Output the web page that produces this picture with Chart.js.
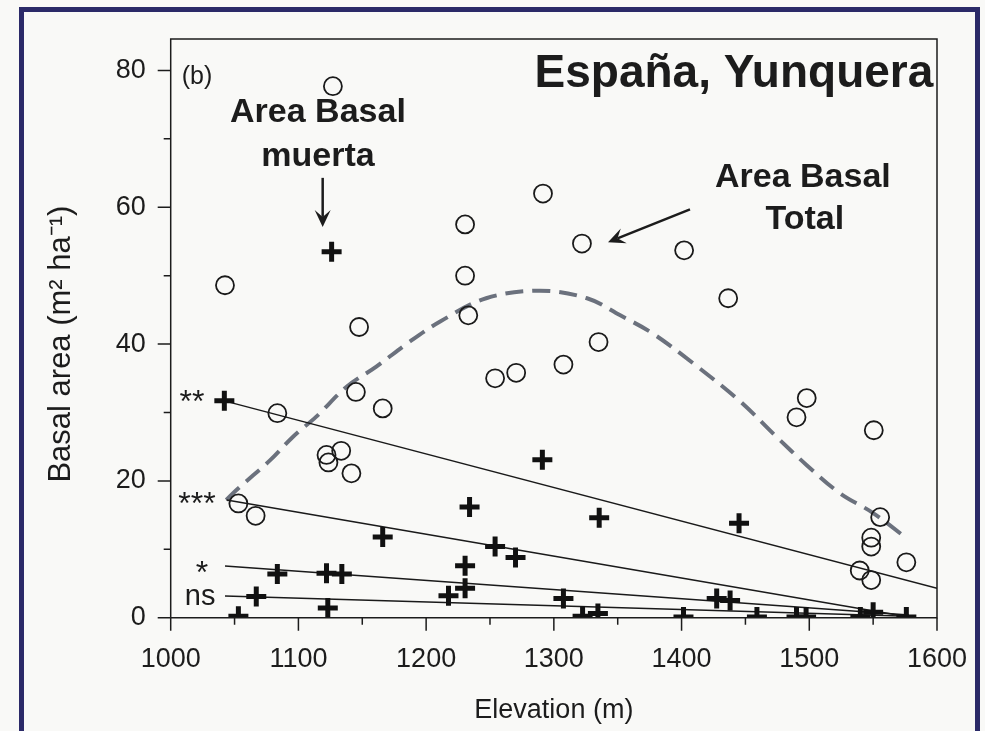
<!DOCTYPE html>
<html>
<head>
<meta charset="utf-8">
<title>España, Yunquera</title>
<script src="https://cdn.jsdelivr.net/npm/chart.js@4.4.1/dist/chart.umd.min.js"></script>
<style>
  html, body { margin: 0; padding: 0; background: #f9f9f7; }
  #wrap { position: relative; width: 985px; height: 731px; overflow: hidden; }
  #frame {
    position: absolute; left: 19px; top: 7px; width: 961px; height: 760px;
    border: 5px solid #2b2a68; box-sizing: border-box; pointer-events: none;
  }
  canvas { position: absolute; left: 0; top: 0; }
</style>
</head>
<body>
<div id="wrap">
  <canvas id="basalChart" width="985" height="731"></canvas>
  <div id="frame"></div>
</div>
<script>
// Area basal total (circles): [elevation, m2/ha]
const totalPoints = [
  [1042.5, 48.6], [1127, 77.7], [1147.5, 42.5], [1145, 33], [1166, 30.6],
  [1083.5, 29.9], [1122, 23.8], [1123.5, 22.7], [1133.5, 24.4], [1141.5, 21.1],
  [1053, 16.7], [1066.5, 14.9], [1230.5, 57.5], [1230.5, 50], [1233, 44.2],
  [1291.5, 62], [1322, 54.7], [1335, 40.3], [1307.5, 37], [1270.5, 35.8],
  [1254, 35], [1402, 53.7], [1436.5, 46.7], [1498, 32.1], [1490, 29.3],
  [1550.5, 27.4], [1555.5, 14.7], [1548.5, 11.7], [1548.5, 10.4], [1576, 8.1],
  [1539.5, 6.9], [1548.5, 5.5]
];

// Area basal muerta (crosses)
const deadPoints = [
  [1042, 31.7], [1126, 53.5], [1166, 11.8], [1083.5, 6.4], [1122, 6.5],
  [1134, 6.4], [1067, 3.1], [1053, 0.2], [1123, 1.4], [1217.5, 3.2],
  [1234, 16.2], [1335.5, 14.6], [1254, 10.4], [1270, 8.8], [1230.5, 7.6],
  [1230.5, 4.3], [1307.5, 2.8], [1322.5, 0.2], [1334.5, 0.6], [1401.5, 0.1],
  [1427.5, 2.8], [1438, 2.5], [1445, 13.8], [1291, 23.1], [1459, 0.1],
  [1490, 0.1], [1497.5, 0.1], [1540, 0.1], [1550, 0.8], [1576, 0.1]
];

// fitted curve for total basal area (dashed)
const totalFit = [
  [1043.5, 17.2], [1051.7, 18.7], [1077.7, 23], [1096, 26.5], [1114, 29.4],
  [1138, 33.8], [1161, 36.7], [1186, 40.2], [1211, 43.3], [1247, 46.7],
  [1289, 47.8], [1326, 46.7], [1352, 44.2], [1377, 41.6], [1409, 37.2],
  [1446, 31.6], [1474, 26.5], [1498, 22.3], [1524, 18.2], [1550, 15.3],
  [1575, 11.8]
];

// regression lines for the dead basal area, with their significance
const regLines = [
  { label: '**',  points: [[1042, 31.7], [1600, 4.3]] },
  { label: '***', points: [[1043.8, 17.2], [1578, 0.1]] },
  { label: '*',   points: [[1042.5, 7.55], [1578, 0.4]] },
  { label: 'ns',  points: [[1042.5, 3.17], [1578, 0.2]] }
];

const xTicks = [1000, 1050, 1100, 1150, 1200, 1250, 1300, 1350, 1400, 1450, 1500, 1550, 1600];
const xLabels = [1000, 1100, 1200, 1300, 1400, 1500, 1600];
const yTicks = [0, 10, 20, 30, 40, 50, 60, 70, 80];
const yLabels = [0, 20, 40, 60, 80];

const FONT = "'Liberation Sans', Arial, Helvetica, sans-serif";
const INK = '#1c1c1c';

const toXY = arr => arr.map(p => ({ x: p[0], y: p[1] }));

const decor = {
  id: 'decor',
  afterDraw(chart) {
    const { ctx, chartArea: a, scales: { x, y } } = chart;
    const px = v => x.getPixelForValue(v);
    const py = v => y.getPixelForValue(v);
    ctx.save();

    // frame and axes
    ctx.strokeStyle = INK;
    ctx.lineWidth = 1.5;
    ctx.beginPath();
    ctx.moveTo(a.left, a.bottom);
    ctx.lineTo(a.left, a.top);
    ctx.lineTo(a.right, a.top);
    ctx.lineTo(a.right, a.bottom);
    ctx.lineTo(a.left, a.bottom);
    ctx.stroke();

    ctx.beginPath();
    xTicks.forEach(v => {
      const len = xLabels.includes(v) ? 13 : 7;
      ctx.moveTo(px(v), a.bottom);
      ctx.lineTo(px(v), a.bottom + len);
    });
    yTicks.forEach(v => {
      const len = yLabels.includes(v) ? 13 : 7;
      ctx.moveTo(a.left, py(v));
      ctx.lineTo(a.left - len, py(v));
    });
    ctx.stroke();

    const text = (str, xv, yv, size, bold, align) => {
      ctx.font = (bold ? 'bold ' : '') + size + 'px ' + FONT;
      ctx.fillStyle = INK;
      ctx.textAlign = align || 'center';
      ctx.textBaseline = 'middle';
      ctx.fillText(str, px(xv), py(yv));
    };

    const arrow = (x1, y1, x2, y2) => {
      const sx = px(x1), sy = py(y1), ex = px(x2), ey = py(y2);
      const ang = Math.atan2(ey - sy, ex - sx);
      const head = 17, half = 8;
      ctx.strokeStyle = INK;
      ctx.lineWidth = 2.5;
      ctx.beginPath();
      ctx.moveTo(sx, sy);
      ctx.lineTo(ex - Math.cos(ang) * head * 0.6, ey - Math.sin(ang) * head * 0.6);
      ctx.stroke();
      ctx.fillStyle = INK;
      ctx.beginPath();
      ctx.moveTo(ex, ey);
      ctx.lineTo(ex - Math.cos(ang) * head + Math.sin(ang) * half, ey - Math.sin(ang) * head - Math.cos(ang) * half);
      ctx.lineTo(ex - Math.cos(ang) * head * 0.6, ey - Math.sin(ang) * head * 0.6);
      ctx.lineTo(ex - Math.cos(ang) * head - Math.sin(ang) * half, ey - Math.sin(ang) * head + Math.cos(ang) * half);
      ctx.closePath();
      ctx.fill();
    };

    text('España, Yunquera', 1441, 79.5, 46, true);
    text('(b)', 1020.6, 79, 25, false);
    text('Area Basal', 1115.3, 73.9, 34, true);
    text('muerta', 1115.3, 67.4, 34, true);
    arrow(1119, 64.3, 1119, 57.1);
    text('Area Basal', 1495, 64.4, 34, true);
    text('Total', 1496.5, 58.2, 34, true);
    arrow(1406.6, 59.7, 1342.4, 54.9);

    // significance marks at the start of each regression line
    const sig = [[1016.7, 31.4, 32], [1020.6, 16.4, 32], [1024.5, 6.4, 32], [1023, 3.0, 29]];
    regLines.forEach((r, i) => text(r.label, sig[i][0], sig[i][1], sig[i][2], false));

    // y axis title, centred on 40 like the original
    ctx.save();
    ctx.translate(61, py(40));
    ctx.rotate(-Math.PI / 2);
    ctx.font = '31px ' + FONT;
    ctx.fillStyle = INK;
    ctx.textAlign = 'center';
    ctx.textBaseline = 'middle';
    ctx.fillText('Basal area (m² ha⁻¹)', 0, 0);
    ctx.restore();

    ctx.restore();
  }
};

new Chart(document.getElementById('basalChart'), {
  type: 'scatter',
  data: {
    datasets: [
      {
        label: 'Area Basal muerta',
        data: toXY(deadPoints),
        pointStyle: 'cross',
        pointRadius: 10,
        pointBorderWidth: 5,
        borderColor: '#111',
        backgroundColor: '#111'
      },
      {
        label: 'Area Basal Total',
        data: toXY(totalPoints),
        pointStyle: 'circle',
        pointRadius: 9,
        pointBorderWidth: 1.8,
        borderColor: '#1a1a1a',
        backgroundColor: 'rgba(0,0,0,0)'
      },
      ...regLines.map(r => ({
        label: r.label,
        data: toXY(r.points),
        showLine: true,
        borderColor: '#1a1a1a',
        borderWidth: 1.5,
        pointRadius: 0
      })),
      {
        label: 'ajuste total',
        data: toXY(totalFit),
        showLine: true,
        borderColor: '#6b717d',
        borderWidth: 4,
        borderDash: [18, 9],
        tension: 0.35,
        pointRadius: 0
      }
    ]
  },
  options: {
    responsive: false,
    animation: false,
    events: [],
    layout: { autoPadding: false, padding: { left: 0, top: 39, right: 48, bottom: 0 } },
    plugins: {
      legend: { display: false },
      tooltip: { enabled: false }
    },
    scales: {
      x: {
        type: 'linear',
        min: 1000,
        max: 1600,
        grid: { display: false, drawTicks: false },
        border: { display: false },
        afterBuildTicks: s => { s.ticks = xTicks.map(v => ({ value: v })); },
        afterFit: s => {
          s.height = 731 - 617.7;
          s.paddingLeft = 0;
          s.paddingRight = 0;
        },
        ticks: {
          autoSkip: false,
          maxRotation: 0,
          padding: 26,
          color: INK,
          font: { family: FONT, size: 27 },
          callback: v => xLabels.includes(v) ? String(v) : ''
        },
        title: {
          display: true,
          text: 'Elevation (m)',
          color: INK,
          font: { family: FONT, size: 27 },
          padding: { top: 0, bottom: 4 }
        }
      },
      y: {
        type: 'linear',
        min: 0,
        max: 84.6,
        grid: { display: false, drawTicks: false },
        border: { display: false },
        afterBuildTicks: s => { s.ticks = yTicks.map(v => ({ value: v })); },
        afterFit: s => {
          s.width = 170.7;
          s.paddingTop = 0;
          s.paddingBottom = 0;
        },
        ticks: {
          autoSkip: false,
          padding: 25,
          color: INK,
          font: { family: FONT, size: 27 },
          callback: v => yLabels.includes(v) ? String(v) : ''
        }
      }
    }
  },
  plugins: [decor]
});
</script>
</body>
</html>
